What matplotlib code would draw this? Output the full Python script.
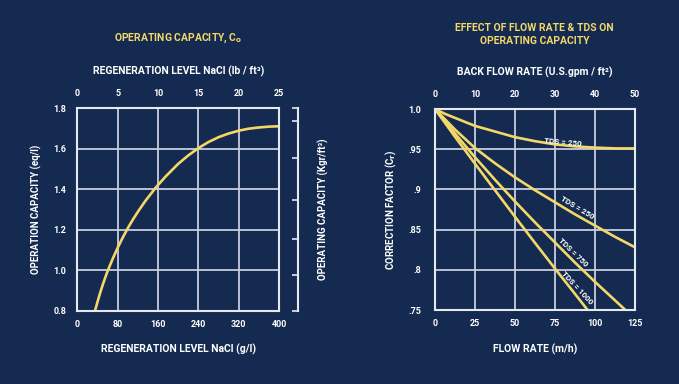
import numpy as np
import matplotlib.pyplot as plt

# left chart: operating capacity vs regeneration level
regen_gl = [35, 40, 45, 50, 55, 60, 70, 80, 90, 100, 110, 120, 135, 155, 175,
            200, 220, 240, 260, 280, 300, 320, 340, 360, 380, 400]
capacity = [0.8, 0.845, 0.887, 0.926, 0.962, 0.996, 1.056, 1.111, 1.161, 1.207,
            1.249, 1.288, 1.342, 1.406, 1.462, 1.5245, 1.566, 1.602, 1.632, 1.656,
            1.674, 1.688, 1.698, 1.704, 1.708, 1.71]
regen_ticks = [0, 80, 160, 240, 320, 400]
regen_lb_ticks = [0, 5, 10, 15, 20, 25]
cap_ticks = [0.8, 1.0, 1.2, 1.4, 1.6, 1.8]
kgr_ticks = [0.8, 0.973, 1.151, 1.345, 1.552, 1.736, 1.8]

# right chart: correction factor vs flow rate
flow = [0, 6.25, 12.5, 18.75, 25, 37.5, 50, 62.5, 75, 87.5, 100, 112.5, 125]
tds_a = [1.0, 0.994, 0.989, 0.984, 0.979, 0.972, 0.965, 0.960, 0.956, 0.9535,
         0.952, 0.951, 0.951]
flow_b = [0, 12.5, 25, 37.5, 50, 62.5, 75, 87.5, 100, 112.5, 125]
tds_b = [1.0, 0.9745, 0.9515, 0.9325, 0.915, 0.899, 0.884, 0.869, 0.855, 0.841, 0.828]
flow_c = [0, 12.5, 25, 37.5, 50, 62.5, 75, 87.5, 100, 112.5, 119]
tds_c = [1.0, 0.9695, 0.94, 0.912, 0.885, 0.859, 0.834, 0.809, 0.785, 0.762, 0.75]
flow_d = [0, 12.5, 25, 37.5, 50, 62.5, 75, 87.5, 95.4]
tds_d = [1.0, 0.9655, 0.932, 0.899, 0.866, 0.8335, 0.8015, 0.77, 0.75]
flow_ticks = [0, 25, 50, 75, 100, 125]
gpm_ticks = [0, 10, 20, 30, 40, 50]
cf_ticks = [0.75, 0.8, 0.85, 0.9, 0.95, 1.0]
cf_labels = ['.75', '.8', '.85', '.9', '.95', '1.0']

BG = '#142a50'
GRID = '#c9cde0'
FRAME = '#e6e8f0'
YEL = '#f3d768'
WHITE = '#ffffff'

plt.rcParams['font.family'] = ['Roboto', 'DejaVu Sans']
plt.rcParams['font.weight'] = 'bold'
plt.rcParams['mathtext.fontset'] = 'dejavusans'

fig = plt.figure(figsize=(6.79, 3.84), dpi=100, facecolor=BG)


def style(ax):
    ax.set_facecolor(BG)
    for s in ax.spines.values():
        s.set_color(FRAME)
        s.set_linewidth(1.5)
    ax.grid(True, color=GRID, linewidth=1.3)
    ax.tick_params(length=0, colors=WHITE, labelsize=6.5, pad=8)
    ax.set_axisbelow(True)


# ---- left ----
ax1 = fig.add_axes([0.1141, 0.1914, 0.2968, 0.5273])
style(ax1)
ax1.plot(regen_gl, capacity, color=YEL, lw=1.9, solid_capstyle='butt')
ax1.set_xlim(0, 400)
ax1.set_ylim(0.8, 1.8)
ax1.set_xticks(regen_ticks)
ax1.set_yticks(cap_ticks)
ax1.set_yticklabels(['%.1f' % v for v in cap_ticks])
ax1.tick_params(axis='x', pad=6.5)
ax1.set_xlabel('REGENERATION LEVEL NaCl (g/l)', color=WHITE, fontsize=7.5,
               fontweight='bold', labelpad=11)
ax1.set_ylabel('OPERATION CAPACITY (eq/l)', color=WHITE, fontsize=7,
               fontweight='bold', labelpad=8)

top1 = ax1.twiny()
top1.set_xlim(0, 25)
top1.set_xticks(regen_lb_ticks)
top1.tick_params(length=0, colors=WHITE, labelsize=6.5, pad=7.5)
top1.set_xlabel('REGENERATION LEVEL NaCl (lb / ft³)', color=WHITE,
                fontsize=7.5, fontweight='bold', labelpad=10)
for s in top1.spines.values():
    s.set_visible(False)

r1 = ax1.twinx()
r1.set_ylim(0.8, 1.8)
r1.set_yticks(kgr_ticks)
r1.set_yticklabels([])
for k, s in r1.spines.items():
    s.set_visible(k == 'right')
r1.spines['right'].set_position(('outward', 13.7))
r1.spines['right'].set_color(FRAME)
r1.spines['right'].set_linewidth(1.5)
r1.tick_params(axis='y', direction='in', length=4, width=1.2, colors=FRAME)
r1.set_ylabel('OPERATING CAPACITY (Kgr/ft³)', color=WHITE, fontsize=7,
              fontweight='bold', labelpad=11)

fig.text(0.262, 0.901, r'OPERATING CAPACITY, C$_\mathbf{o}$', color=YEL,
         fontsize=7.5, fontweight='bold', ha='center', va='center')

# ---- right ----
ax2 = fig.add_axes([0.6406, 0.1927, 0.2946, 0.5234])
style(ax2)
for fx, fy in [(flow, tds_a), (flow_b, tds_b), (flow_c, tds_c), (flow_d, tds_d)]:
    ax2.plot(fx, fy, color=YEL, lw=1.9)
ax2.set_xlim(0, 125)
ax2.set_ylim(0.75, 1.0)
ax2.set_xticks(flow_ticks)
ax2.set_yticks(cf_ticks)
ax2.set_yticklabels(cf_labels)
ax2.tick_params(axis='x', pad=6.5)
ax2.tick_params(axis='y', pad=10)
ax2.set_xlabel('FLOW RATE (m/h)', color=WHITE, fontsize=7.5,
               fontweight='bold', labelpad=11)
ax2.set_ylabel(r'CORRECTION FACTOR (C$_\mathbf{r}$)', color=WHITE, fontsize=7,
               fontweight='bold', labelpad=7)

top2 = ax2.twiny()
top2.set_xlim(0, 50)
top2.set_xticks(gpm_ticks)
top2.tick_params(length=0, colors=WHITE, labelsize=6.5, pad=7.5)
top2.set_xlabel('BACK FLOW RATE (U.S.gpm / ft²)', color=WHITE,
                fontsize=7.5, fontweight='bold', labelpad=10)
for s in top2.spines.values():
    s.set_visible(False)

lab_kw = dict(color=WHITE, fontsize=5.8, fontweight='bold', ha='center', va='center')
ax2.text(80, 0.959, 'TDS = 250', rotation=-5, **lab_kw)
ax2.text(89, 0.877, 'TDS = 250', rotation=-31, **lab_kw)
ax2.text(86.5, 0.822, 'TDS = 750', rotation=-44, **lab_kw)
ax2.text(88.6, 0.778, 'TDS = 1000', rotation=-47, **lab_kw)

fig.text(0.787, 0.91, 'EFFECT OF FLOW RATE & TDS ON\nOPERATING CAPACITY', color=YEL,
         fontsize=7.5, fontweight='bold', ha='center', va='center', linespacing=1.3)

fig.savefig('out.png', dpi=100, facecolor=BG)
